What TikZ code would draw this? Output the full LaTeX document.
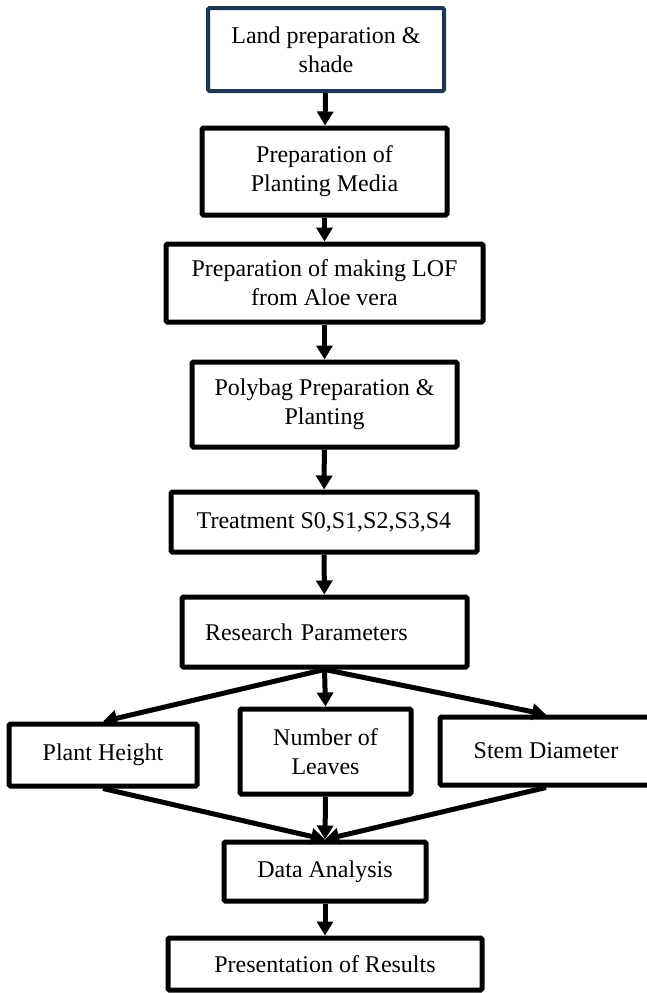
\documentclass[tikz,border=0pt]{standalone}
\usepackage{fontspec}
\setmainfont{Liberation Serif}
\usetikzlibrary{arrows.meta}
\definecolor{landblue}{RGB}{31,53,84}
\begin{document}
\begin{tikzpicture}[x=1pt,y=-1pt,
    box/.style={draw, line width=5pt, rounded corners=1.5pt, align=center,
      inner sep=0pt, font=\fontsize{24}{29}\selectfont},
    arr/.style={-{Triangle[length=14pt,width=16pt]}, line width=5pt}]
      \useasboundingbox (0,0) rectangle (646,993);

      \node[box, draw=landblue, line width=4pt, minimum width=236pt, minimum height=83pt] (land) at (326,49.5) {Land preparation \&\\shade};
      \node[box, minimum width=245pt, minimum height=87pt] (media) at (324.5,171.5) {Preparation of\\Planting Media};
      \node[box, minimum width=317pt, minimum height=78pt] (lof) at (324.5,283) {Preparation of making LOF\\from Aloe vera};
      \node[box, minimum width=265pt, minimum height=85pt] (polybag) at (324.5,404.5) {Polybag Preparation \&\\Planting};
      \node[box, minimum width=306pt, minimum height=60pt] (treat) at (324,522) {Treatment S0,S1,S2,S3,S4};
      \node[box, text width=239pt, align=left, inner xsep=23pt, minimum height=70pt] (param) at (324.5,632) {Research Parameters};

      \node[box, minimum width=188pt, minimum height=62pt] (height) at (103,755) {Plant Height};
      \node[box, minimum width=171pt, minimum height=85pt] (leaves) at (325.5,751.5) {Number of\\Leaves};
      \node[box, minimum width=212pt, minimum height=68pt] (stem) at (546,751) {Stem Diameter};

      \node[box, minimum width=202pt, minimum height=59pt] (analysis) at (325,871.5) {Data Analysis};
      \node[box, minimum width=314pt, minimum height=52pt] (results) at (325,964) {Presentation of Results};

      \draw[arr] (land) -- (media);
      \draw[arr] (media) -- (lof);
      \draw[arr] (lof) -- (polybag);
      \draw[arr] (polybag) -- (treat);
      \draw[arr] (treat) -- (param);

      \draw[arr] (param.south) -- (height.north);
      \draw[arr] (param.south) -- (leaves.north);
      \draw[arr] (param.south) -- (stem.north);

      \draw[arr] (height.south) -- (analysis.north);
      \draw[arr] (leaves.south) -- (analysis.north);
      \draw[arr] (stem.south) -- (analysis.north);

      \draw[arr] (analysis) -- (results);
    \end{tikzpicture}
\end{document}
